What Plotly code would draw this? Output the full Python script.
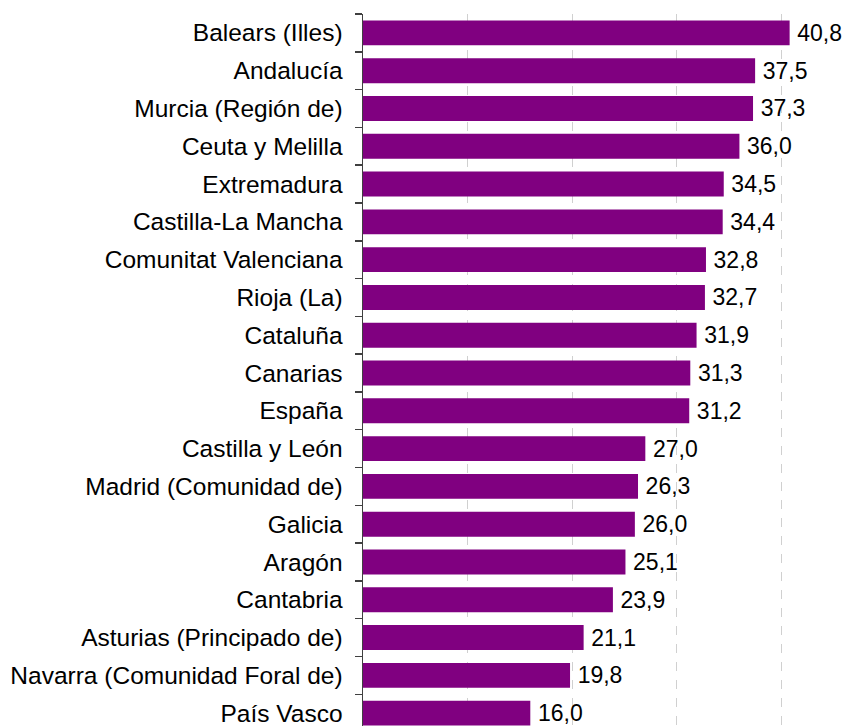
import plotly.graph_objects as go

regions = ["Balears (Illes)", "Andalucía", "Murcia (Región de)", "Ceuta y Melilla",
           "Extremadura", "Castilla-La Mancha", "Comunitat Valenciana", "Rioja (La)",
           "Cataluña", "Canarias", "España", "Castilla y León", "Madrid (Comunidad de)",
           "Galicia", "Aragón", "Cantabria", "Asturias (Principado de)",
           "Navarra (Comunidad Foral de)", "País Vasco"]
values = [40.8, 37.5, 37.3, 36.0, 34.5, 34.4, 32.8, 32.7, 31.9, 31.3, 31.2,
          27.0, 26.3, 26.0, 25.1, 23.9, 21.1, 19.8, 16.0]

FONT = "Liberation Sans, Arial, sans-serif"

fig = go.Figure(go.Bar(
    x=values, y=regions, orientation="h",
    marker=dict(color="#800080", line=dict(width=0)),
    texttemplate="\u2009%{x:.1f}", textposition="outside",
    constraintext="none",
    textfont=dict(family=FONT, size=23, color="#000000"),
    cliponaxis=False,
    hoverinfo="skip",
))

fig.update_layout(
    width=846, height=726,
    margin=dict(l=363, r=2, t=14, b=0, pad=0, autoexpand=False),
    paper_bgcolor="white", plot_bgcolor="white",
    separators=",.",
    bargap=0.34,
    showlegend=False,
    font=dict(family=FONT, size=23, color="#000000"),
)
fig.update_xaxes(
    range=[0, 46], showticklabels=False, ticks="",
    showgrid=True, gridcolor="#d0d0d0", griddash="dash", gridwidth=1,
    dtick=10, tick0=0, zeroline=False, showline=False, automargin=False,
)
fig.update_yaxes(
    type="category", range=[18.34, -0.5], automargin=False,
    showline=True, linecolor="#404040", linewidth=1.5,
    ticks="outside", tickson="boundaries", ticklen=7, tickcolor="#404040", tickwidth=1.5,
    ticklabelstandoff=14,
    tickfont=dict(family=FONT, size=24.5, color="#000000"),
    showgrid=False,
)

fig.write_html(
    "out.html",
    config={"displayModeBar": False, "staticPlot": True},
    post_script="document.body.style.margin='0';document.body.style.overflow='hidden';",
)
